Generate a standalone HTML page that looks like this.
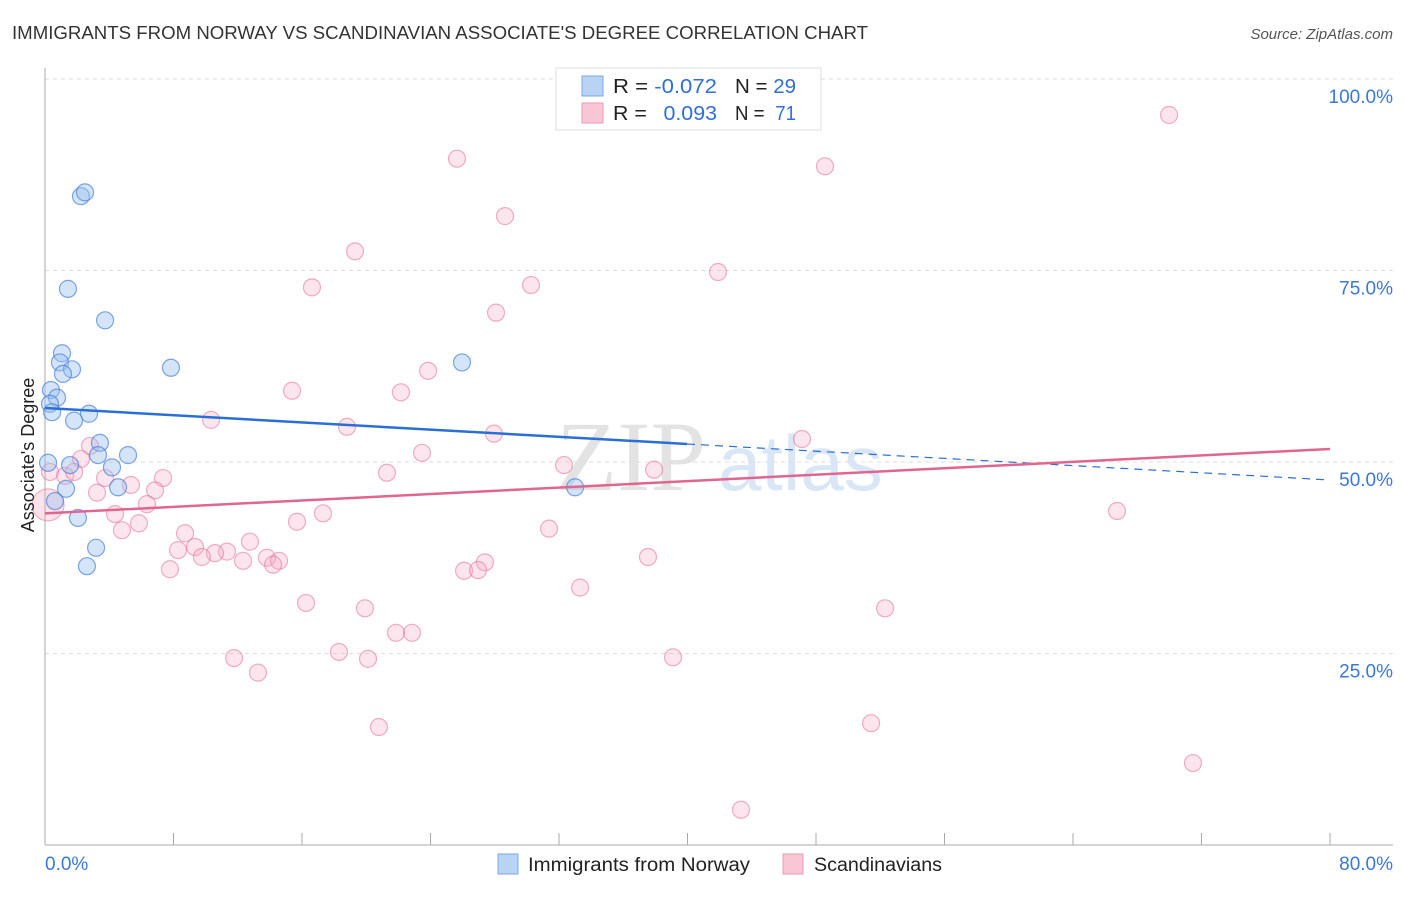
<!DOCTYPE html>
<html><head><meta charset="utf-8">
<style>
body{margin:0;background:#fff;font-family:"Liberation Sans",sans-serif;}
svg text{font-family:"Liberation Sans",sans-serif;}
</style></head>
<body>
<svg id="chart" width="1406" height="892" viewBox="0 0 1406 892" xmlns="http://www.w3.org/2000/svg">
<text x="12" y="39" font-size="18" fill="#333" textLength="856" lengthAdjust="spacingAndGlyphs">IMMIGRANTS FROM NORWAY VS SCANDINAVIAN ASSOCIATE'S DEGREE CORRELATION CHART</text>
<text x="1393" y="39" font-size="15" fill="#555" font-style="italic" text-anchor="end">Source: ZipAtlas.com</text>
<g>
<text x="556" y="490" font-size="100" fill="#d8d8d8" opacity="0.7" style="font-family:'Liberation Serif',serif">ZIP</text>
<text x="718" y="490" font-size="78" fill="#c9dcf3" opacity="0.7">atlas</text>
</g>
<g id="grid"></g>
<g id="axes"></g>
<g id="pinkPts"></g>
<g id="bluePts"></g>
<g id="lines"></g>
<text x="34" y="455" font-size="18" fill="#222" text-anchor="middle" transform="rotate(-90 34 455)">Associate's Degree</text>
<g>
<rect x="556" y="68" width="265" height="62" fill="#fff" stroke="#ddd"/>
<rect x="582" y="76" width="21" height="20" fill="#b9d3f5" stroke="#7aa7e6"/>
<rect x="582" y="103" width="21" height="20" fill="#f9c6d5" stroke="#ec9ab4"/>
<text x="613" y="93" font-size="20" fill="#222" textLength="104" lengthAdjust="spacingAndGlyphs">R = <tspan fill="#2f6fd6">-0.072</tspan></text>
<text x="735" y="93" font-size="20" fill="#222" textLength="61" lengthAdjust="spacingAndGlyphs">N = <tspan fill="#2f6fd6">29</tspan></text>
<text x="613" y="120" font-size="20" fill="#222" textLength="104" lengthAdjust="spacingAndGlyphs">R = <tspan fill="#2f6fd6" dx="10">0.093</tspan></text>
<text x="735" y="120" font-size="20" fill="#222" textLength="61" lengthAdjust="spacingAndGlyphs">N = <tspan fill="#2f6fd6" dx="6">71</tspan></text>
</g>
<g>
<rect x="498" y="854" width="20" height="20" fill="#b9d3f5" stroke="#7aa7e6"/>
<text x="528" y="871" font-size="19" fill="#222" textLength="222" lengthAdjust="spacingAndGlyphs">Immigrants from Norway</text>
<rect x="783" y="854" width="20" height="20" fill="#f9c6d5" stroke="#ec9ab4"/>
<text x="814" y="871" font-size="19" fill="#222" textLength="128" lengthAdjust="spacingAndGlyphs">Scandinavians</text>
</g>
</svg>
<script>
const yTicks=[25,50,75,100];
const yTickLabels=["25.0%","50.0%","75.0%","100.0%"];
const xTicks=[0,8,16,24,32,40,48,56,64,72,80];
const blueX=[2.24,2.49,1.43,3.74,1.06,0.93,1.68,1.12,7.84,25.96,0.37,0.75,0.31,0.44,2.74,1.81,3.42,3.30,5.17,1.56,4.17,0.19,1.31,4.55,33.0,0.62,2.05,3.18,2.61];
const blueY=[84.7,85.2,72.6,68.5,64.2,63.0,62.1,61.5,62.3,63.0,59.4,58.4,57.6,56.5,56.3,55.4,52.5,50.9,50.9,49.6,49.3,49.9,46.5,46.7,46.7,44.9,42.7,38.8,36.4];
const pinkX=[69.98,25.65,48.56,28.64,19.30,41.90,16.62,30.26,28.08,23.85,15.38,22.16,10.34,18.80,27.95,47.13,2.80,23.47,32.31,2.24,0.31,1.25,1.81,37.92,21.29,3.74,7.35,5.35,6.85,3.24,6.35,4.36,17.31,5.85,15.69,4.79,31.38,66.74,8.72,12.76,9.34,8.28,11.33,10.58,9.77,13.82,12.33,14.57,14.20,37.54,27.39,7.78,26.09,26.96,33.31,16.25,19.92,52.30,21.85,22.85,18.30,20.11,39.10,11.77,13.26,20.79,51.43,71.47,43.33,35.67];
const pinkY=[95.3,89.6,88.6,82.1,77.5,74.8,72.8,73.1,69.5,61.9,59.3,59.1,55.5,54.6,53.7,53.0,52.1,51.2,49.6,50.4,48.7,48.2,48.7,49.0,48.6,47.9,47.9,47.0,46.3,46.0,44.5,43.2,43.3,42.0,42.2,41.1,41.3,43.6,40.7,39.6,38.9,38.5,38.3,38.1,37.6,37.5,37.1,37.1,36.6,37.6,36.9,36.0,35.8,35.9,33.6,31.6,30.9,30.9,27.7,27.7,25.2,24.3,24.5,24.4,22.5,15.4,15.9,10.7,4.6,95.3];
const bigPinkX=[0.19];
const bigPinkY=[44.4];
const blueTrend=[57.05,47.65];
const blueSolidEnd=[39.97];
const pinkTrend=[43.3,51.7];

const NS="http://www.w3.org/2000/svg";
const X0=45,X1=1330,Y0=845,Y100=79;
function sx(v){return X0+(v/80)*(X1-X0);}
function sy(v){return Y0-(v/100)*(Y0-Y100);}
function mk(tag,attrs,parent){const e=document.createElementNS(NS,tag);for(const k in attrs)e.setAttribute(k,attrs[k]);parent.appendChild(e);return e;}
const grid=document.getElementById('grid'),axes=document.getElementById('axes');
yTicks.forEach((t,i)=>{
 const l=mk('line',{x1:X0,x2:1393,y1:sy(t),y2:sy(t),stroke:'#ddd','stroke-dasharray':'4,4'},grid);
 
 
 const tx=mk('text',{x:1393,y:sy(t)+24,'font-size':19,fill:'#3a78d6','text-anchor':'end'},axes);
 tx.textContent=yTickLabels[i];
 
 
});
const ya=mk('line',{x1:X0,x2:X0,y1:68,y2:Y0,stroke:'#aaa'},axes);


const xa=mk('line',{x1:X0,x2:1393,y1:Y0,y2:Y0,stroke:'#aaa'},axes);


xTicks.forEach(t=>{
 const l=mk('line',{x1:sx(t),x2:sx(t),y1:Y0-12,y2:Y0,stroke:'#aaa'},axes);
 
 
});
const xl0=mk('text',{x:X0,y:870,'font-size':19,fill:'#3a78d6'},axes);xl0.textContent='0.0%';


const xl1=mk('text',{x:1393,y:870,'font-size':19,fill:'#3a78d6','text-anchor':'end'},axes);xl1.textContent='80.0%';


const pg=document.getElementById('pinkPts'),bg=document.getElementById('bluePts');
bigPinkX.forEach((x,i)=>{
 const c=mk('circle',{cx:sx(x),cy:sy(bigPinkY[i]),r:16,fill:'rgba(244,160,188,0.3)',stroke:'rgba(228,110,150,0.5)','stroke-width':1.2},pg);
 
 
});
pinkX.forEach((x,i)=>{
 const c=mk('circle',{cx:sx(x),cy:sy(pinkY[i]),r:8.5,fill:'rgba(244,170,196,0.3)',stroke:'rgba(228,110,150,0.55)','stroke-width':1.2},pg);
 
 
});
blueX.forEach((x,i)=>{
 const c=mk('circle',{cx:sx(x),cy:sy(blueY[i]),r:8.5,fill:'rgba(150,190,240,0.4)',stroke:'rgba(60,120,210,0.65)','stroke-width':1.2},bg);
 
 
});
const lg=document.getElementById('lines');
function ty(tr,x){return tr[0]+(tr[1]-tr[0])*x/80;}
const bs=mk('line',{x1:sx(0),y1:sy(blueTrend[0]),x2:sx(blueSolidEnd[0]),y2:sy(ty(blueTrend,blueSolidEnd[0])),stroke:'#2a6fd6','stroke-width':2.5},lg);


const bd=mk('line',{x1:sx(blueSolidEnd[0]),y1:sy(ty(blueTrend,blueSolidEnd[0])),x2:sx(80),y2:sy(blueTrend[1]),stroke:'#2a6fd6','stroke-width':1.2,'stroke-dasharray':'8,6'},lg);


const pl=mk('line',{x1:sx(0),y1:sy(pinkTrend[0]),x2:sx(80),y2:sy(pinkTrend[1]),stroke:'#e0668f','stroke-width':2.5},lg);


</script>
</body></html>
